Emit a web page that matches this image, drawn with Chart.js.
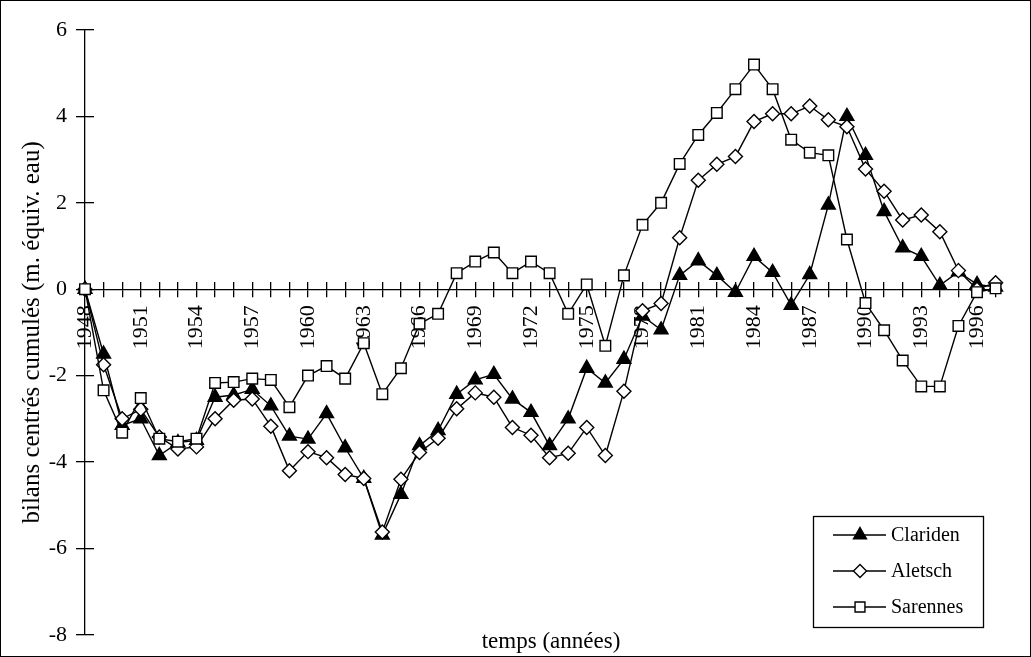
<!DOCTYPE html>
<html>
<head>
<meta charset="utf-8">
<script src="https://cdn.jsdelivr.net/npm/chart.js@4.4.1/dist/chart.umd.min.js"></script>
<style>
  body { margin: 0; background: #fff; }
  #wrap { position: relative; width: 1031px; height: 657px; }
  #frame {
    position: absolute; left: 0; top: 0; width: 1031px; height: 657px;
    box-sizing: border-box; border: 1.5px solid #000; pointer-events: none;
  }
</style>
</head>
<body>
<div id="wrap">
  <canvas id="bilanChart" width="1031" height="657"></canvas>
  <div id="frame"></div>
</div>
<script>
const years = [
  1948, 1949, 1950, 1951, 1952, 1953, 1954, 1955, 1956, 1957,
  1958, 1959, 1960, 1961, 1962, 1963, 1964, 1965, 1966, 1967,
  1968, 1969, 1970, 1971, 1972, 1973, 1974, 1975, 1976, 1977,
  1978, 1979, 1980, 1981, 1982, 1983, 1984, 1985, 1986, 1987,
  1988, 1989, 1990, 1991, 1992, 1993, 1994, 1995, 1996, 1997,
];

// bilans centrés cumulés, m. équiv. eau
const clariden = [
  0, -1.5, -3.15, -3.0, -3.85, -3.55, -3.5, -2.5, -2.45, -2.32,
  -2.7, -3.4, -3.47, -2.88, -3.67, -4.38, -5.69, -4.75, -3.62, -3.27,
  -2.43, -2.1, -1.97, -2.54, -2.85, -3.62, -3.0, -1.83, -2.17, -1.62,
  -0.62, -0.94, 0.32, 0.66, 0.32, -0.07, 0.76, 0.39, -0.37, 0.34,
  1.95, 4.0, 3.1, 1.8, 0.96, 0.76, 0.09, 0.4, 0.11, 0.05,
];
const aletsch = [
  0, -1.75, -3.0, -2.78, -3.42, -3.7, -3.65, -3.0, -2.57, -2.54,
  -3.17, -4.2, -3.76, -3.9, -4.29, -4.38, -5.62, -4.4, -3.78, -3.45,
  -2.77, -2.4, -2.5, -3.2, -3.38, -3.9, -3.8, -3.2, -3.85, -2.36,
  -0.5, -0.33, 1.19, 2.52, 2.89, 3.07, 3.88, 4.06, 4.06, 4.24,
  3.92, 3.76, 2.78, 2.27, 1.6, 1.72, 1.33, 0.43, 0.0, 0.15,
];
const sarennes = [
  0, -2.34, -3.32, -2.52, -3.46, -3.53, -3.46, -2.17, -2.15, -2.07,
  -2.1, -2.73, -2.0, -1.78, -2.07, -1.25, -2.43, -1.83, -0.8, -0.57,
  0.37, 0.64, 0.85, 0.37, 0.64, 0.37, -0.57, 0.11, -1.31, 0.32,
  1.49, 2.0, 2.9, 3.57, 4.08, 4.63, 5.2, 4.63, 3.46, 3.16,
  3.1, 1.15, -0.32, -0.95, -1.65, -2.25, -2.25, -0.85, -0.07, 0.02,
];

const yTitle = "bilans centrés cumulés (m. équiv. eau)";
const xTitle = "temps (années)";
const serif = "'Liberation Serif', 'Times New Roman', serif";

Chart.defaults.color = "#000";
Chart.defaults.font.family = serif;

function series(label, values, style, radius, fill, order) {
  return {
    label: label,
    data: values,
    xAxisID: "x",
    yAxisID: "y",
    borderColor: "#000",
    borderWidth: 1.4,
    tension: 0,
    pointStyle: style,
    pointRadius: radius,
    pointHoverRadius: radius,
    pointBackgroundColor: fill,
    pointBorderColor: "#000",
    pointBorderWidth: 1.4,
    clip: false,
    order: order,
  };
}

// frame text and legend box, drawn over the plot
const extras = {
  id: "extras",
  afterDraw(chart) {
    const ctx = chart.ctx;
    ctx.save();
    ctx.fillStyle = "#000";
    ctx.font = "23px " + serif;
    ctx.textAlign = "center";
    ctx.textBaseline = "alphabetic";
    ctx.fillText(xTitle, 551, 648);

    ctx.fillStyle = "#fff";
    ctx.fillRect(813, 516, 170, 112);
    ctx.strokeStyle = "#000";
    ctx.lineWidth = 1.3;
    ctx.strokeRect(813.5, 516.5, 170, 111);

    ctx.font = "20px " + serif;
    ctx.textAlign = "left";
    ctx.textBaseline = "middle";
    chart.data.datasets.forEach((ds, i) => {
      const y = 535 + i * 36;
      ctx.strokeStyle = "#000";
      ctx.lineWidth = ds.borderWidth;
      ctx.beginPath();
      ctx.moveTo(833, y);
      ctx.lineTo(886, y);
      ctx.stroke();
      ctx.fillStyle = ds.pointBackgroundColor;
      ctx.lineWidth = ds.pointBorderWidth;
      Chart.helpers.drawPoint(ctx, {
        pointStyle: ds.pointStyle,
        radius: ds.pointRadius - 0.5,
        borderWidth: ds.pointBorderWidth,
        rotation: 0,
      }, 860, y);
      ctx.fillStyle = "#000";
      ctx.fillText(ds.label, 891, y + 1);
    });
    ctx.restore();
  },
};

const chart = new Chart(document.getElementById("bilanChart"), {
  type: "line",
  data: {
    labels: years,
    datasets: [
      series("Clariden", clariden, "triangle", 8, "#000", 2),
      series("Aletsch", aletsch, "rectRot", 7, "#fff", 1),
      series("Sarennes", sarennes, "rect", 7.5, "#fff", 0),
    ],
  },
  options: {
    responsive: false,
    animation: false,
    layout: { padding: { top: 30, right: 11, bottom: 16, left: 0 } },
    plugins: {
      legend: { display: false },
      tooltip: { enabled: false },
    },
    scales: {
      x: {
        type: "category",
        axis: "x",
        position: { y: 0 },
        offset: false,
        ticks: {
          autoSkip: false,
          maxRotation: 90,
          minRotation: 90,
          padding: 9,
          font: { size: 22 },
          callback: (value, index) => (index % 3 === 0 ? String(years[index]) : ""),
        },
        grid: { drawOnChartArea: false, tickLength: 7, color: "#000", lineWidth: 1.3 },
        border: { color: "#000", width: 1.3 },
      },
      xUp: {
        type: "category",
        axis: "x",
        position: { y: 0 },
        offset: false,
        ticks: { display: false },
        grid: { drawOnChartArea: false, tickLength: -7, color: "#000", lineWidth: 1.3 },
        border: { display: false },
      },
      y: {
        type: "linear",
        axis: "y",
        position: "left",
        min: -8,
        max: 6,
        ticks: { stepSize: 2, padding: 9, font: { size: 22 } },
        grid: { drawOnChartArea: false, tickLength: 9, color: "#000", lineWidth: 1.3 },
        border: { color: "#000", width: 1.3 },
        title: {
          display: true,
          text: yTitle,
          font: { size: 25 },
          padding: { top: 17, bottom: 0 },
        },
        afterFit(scale) { scale.width = 85; },
      },
      yIn: {
        type: "linear",
        axis: "y",
        position: { x: 0 },
        min: -8,
        max: 6,
        ticks: { display: false, stepSize: 2 },
        grid: { drawOnChartArea: false, tickLength: -9, color: "#000", lineWidth: 1.3 },
        border: { display: false },
      },
    },
  },
  plugins: [extras],
});
</script>
</body>
</html>
